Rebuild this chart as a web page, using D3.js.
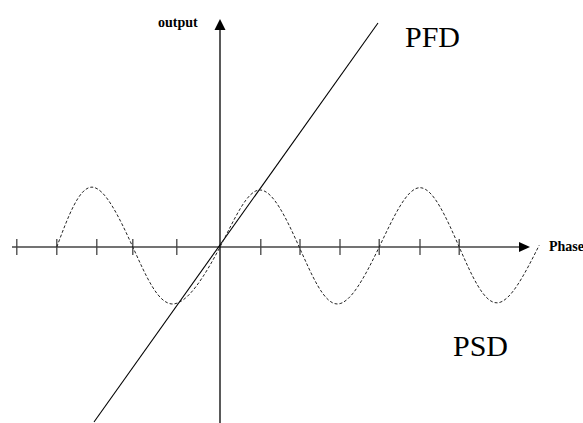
<!DOCTYPE html>
<html>
<head>
<meta charset="utf-8">
<script src="https://cdn.jsdelivr.net/npm/d3@7"></script>
<style>
  html, body { margin: 0; padding: 0; background: #fff; }
  svg { display: block; }
  text { font-family: "Liberation Serif", "Times New Roman", serif; fill: #000; }
</style>
</head>
<body>
<div id="chart"></div>
<script>
// Phase-detector characteristics: phase on x, detector output on y.
const tickPhases = [-5.08, -4.08, -3.08, -2.18, -1.08, 1.02, 2.0, 3.0, 3.98, 5.0, 5.98];

// Phase/frequency detector: output rises linearly with phase.
const pfdPhase  = [-3.15, 3.95];
const pfdOutput = [-3.07, 3.93];

// Phase-sensitive detector: periodic response.
const psdPhase  = [-4.08, -3.2, -2.18, -1.18, 0, 1.0, 1.98, 2.93, 3.98, 5.0, 5.98, 6.93, 7.98];
const psdOutput = [0, 1.05, 0, -1.0, 0, 1.0, 0, -1.0, 0, 1.04, 0, -0.98, 0.03];

const axisRange = { xMin: -5.2, xMax: 7.75, yMin: -3.1, yMax: 4.0 };

const W = 583, H = 423;
const x = d3.scaleLinear().domain([-5.5, 9.075]).range([0, W]);
const y = d3.scaleLinear().domain([4.333, -3.088]).range([0, H]);

const svg = d3.select("#chart").append("svg")
  .attr("width", W).attr("height", H);

// horizontal axis with arrow
svg.append("line")
  .attr("x1", x(axisRange.xMin)).attr("x2", x(axisRange.xMax) - 4)
  .attr("y1", y(0)).attr("y2", y(0))
  .attr("stroke", "#444").attr("stroke-width", 1.5);
const ax = x(axisRange.xMax), ay = y(0);
svg.append("path")
  .attr("d", `M${ax},${ay} L${ax - 11},${ay - 5} L${ax - 11},${ay + 5} Z`)
  .attr("fill", "#000");

// tick marks crossing the horizontal axis
svg.selectAll("line.tick").data(tickPhases).join("line")
  .attr("class", "tick")
  .attr("x1", d => x(d)).attr("x2", d => x(d))
  .attr("y1", y(0) - 8).attr("y2", y(0) + 8)
  .attr("stroke", "#444").attr("stroke-width", 1.3);

// vertical axis with arrow
svg.append("line")
  .attr("x1", x(0)).attr("x2", x(0))
  .attr("y1", y(axisRange.yMin)).attr("y2", y(axisRange.yMax) + 6)
  .attr("stroke", "#000").attr("stroke-width", 1.3);
const vx = x(0), vy = y(axisRange.yMax);
svg.append("path")
  .attr("d", `M${vx},${vy} L${vx - 5.5},${vy + 11} L${vx + 5.5},${vy + 11} Z`)
  .attr("fill", "#000");

// PFD line
svg.append("line")
  .attr("x1", x(pfdPhase[0])).attr("y1", y(pfdOutput[0]))
  .attr("x2", x(pfdPhase[1])).attr("y2", y(pfdOutput[1]))
  .attr("stroke", "#000").attr("stroke-width", 1.1);

// PSD curve (dashed)
const psd = psdPhase.map((p, i) => [p, psdOutput[i]]);
svg.append("path")
  .datum(psd)
  .attr("d", d3.line().x(d => x(d[0])).y(d => y(d[1])).curve(d3.curveNatural))
  .attr("fill", "none")
  .attr("stroke", "#222")
  .attr("stroke-width", 1)
  .attr("stroke-dasharray", "3,2");

// labels
svg.append("text").attr("x", 158).attr("y", 27)
  .attr("font-size", 14).attr("font-weight", "bold").text("output");
svg.append("text").attr("x", 549).attr("y", 251)
  .attr("font-size", 14).attr("font-weight", "bold").text("Phase");
svg.append("text").attr("x", 405).attr("y", 47)
  .attr("font-size", 30).text("PFD");
svg.append("text").attr("x", 453).attr("y", 356)
  .attr("font-size", 30).text("PSD");
</script>
</body>
</html>
